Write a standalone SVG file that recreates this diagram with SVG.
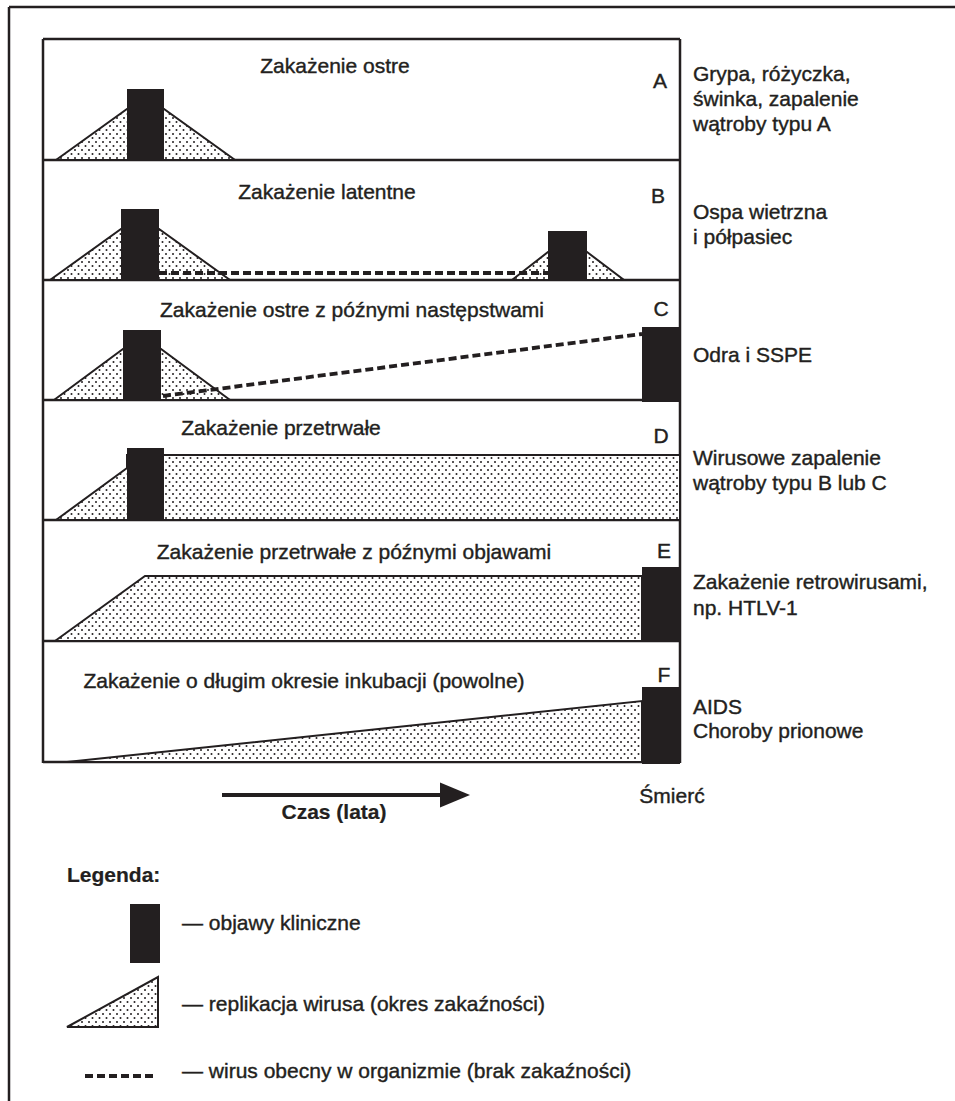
<svg xmlns="http://www.w3.org/2000/svg" width="955" height="1101" viewBox="0 0 955 1101">
<style>
text{font-family:"Liberation Sans",Arial,sans-serif;font-size:21px;fill:#231f20;stroke:#231f20;stroke-width:0.4}
.t{text-anchor:middle}
.b{font-weight:bold;stroke-width:0.2}
.blk{fill:#231f20}
.rep{fill:url(#dots);stroke:#231f20;stroke-width:2;stroke-linejoin:miter}
.dash{stroke:#231f20;stroke-width:3.8;stroke-dasharray:8 4;fill:none}
.ln{stroke:#231f20;stroke-width:2.5;fill:none}
</style>
<defs>
<pattern id="dots" width="7" height="8" patternUnits="userSpaceOnUse">
<rect width="7" height="8" fill="#fff"/>
<circle cx="1.5" cy="2" r="1" fill="#231f20"/>
<circle cx="5" cy="6" r="1" fill="#231f20"/>
</pattern>
</defs>
<rect width="955" height="1101" fill="#fff"/>
<g id="frame">
<path class="ln" d="M9,7 H955 M9,7 V1101"/>
<path class="ln" d="M43,39 H680 M43,160 H680 M43,280 H680 M43,400 H680 M43,520 H680 M43,641 H680 M43,762 H680 M43,39 V763 M680,39 V763"/>
</g>
<g id="rowA">
<text class="t" x="335" y="73">Zakażenie ostre</text>
<polygon class="rep" points="56,160 127,109 164,109 235,160"/>
<rect class="blk" x="127" y="89" width="37" height="71"/>
<text class="t" x="660" y="88">A</text>
<text x="693" y="81">Grypa, różyczka,</text>
<text x="693" y="106">świnka, zapalenie</text>
<text x="693" y="131">wątroby typu A</text>
</g>
<g id="rowB">
<text class="t" x="327" y="199">Zakażenie latentne</text>
<polygon class="rep" points="50,280 121,229 159,229 230,280"/>
<rect class="blk" x="121" y="209" width="38" height="71"/>
<polygon class="rep" points="512,280 548,252 587,252 624,280"/>
<rect class="blk" x="548" y="231" width="39" height="49"/>
<text class="t" x="658" y="203">B</text>
<text x="693" y="219">Ospa wietrzna</text>
<text x="693" y="244">i półpasiec</text>
</g>
<g id="rowC">
<text class="t" x="352" y="317">Zakażenie ostre z późnymi następstwami</text>
<polygon class="rep" points="54,400 123,349 161,349 230,400"/>
<rect class="blk" x="123" y="330" width="38" height="70"/>
<rect class="blk" x="642" y="327" width="38" height="75"/>
<text class="t" x="661" y="316">C</text>
<text x="693" y="362">Odra i SSPE</text>
</g>
<g id="rowD">
<text class="t" x="281" y="435">Zakażenie przetrwałe</text>
<path class="rep" d="M56,520 L127,468 L127,455 L680,455 L680,520 Z"/>
<rect class="blk" x="127" y="448" width="37" height="72"/>
<text class="t" x="661" y="443">D</text>
<text x="693" y="465">Wirusowe zapalenie</text>
<text x="693" y="490">wątroby typu B lub C</text>
</g>
<g id="rowE">
<text class="t" x="354" y="559">Zakażenie przetrwałe z późnymi objawami</text>
<path class="rep" d="M55,641 L145,576 L642,576 L642,641 Z"/>
<rect class="blk" x="642" y="567" width="38" height="75"/>
<text class="t" x="664" y="558">E</text>
<text x="693" y="589">Zakażenie retrowirusami,</text>
<text x="693" y="615">np. HTLV-1</text>
</g>
<g id="rowF">
<text class="t" x="304" y="688">Zakażenie o długim okresie inkubacji (powolne)</text>
<path class="rep" d="M67,762 L642,701 L642,762 Z"/>
<rect class="blk" x="642" y="687" width="38" height="77"/>
<text class="t" x="664" y="682">F</text>
<text x="693" y="714">AIDS</text>
<text x="693" y="738">Choroby prionowe</text>
</g>
<g id="connectors">
<line class="dash" x1="159" y1="273" x2="548" y2="273"/>
<line class="dash" x1="163" y1="396" x2="642" y2="334"/>
<line x1="222" y1="795" x2="444" y2="795" stroke="#231f20" stroke-width="4"/>
<polygon class="blk" points="440,782.5 470,795 440,807.5"/>
</g>
<g id="axis">
<text class="t b" x="334" y="819">Czas (lata)</text>
<text class="t" x="672" y="803">Śmierć</text>
</g>
<g id="legend">
<text class="b" x="67" y="882">Legenda:</text>
<rect class="blk" x="130" y="904" width="30" height="59"/>
<text x="182" y="930">— objawy kliniczne</text>
<polygon class="rep" points="67,1027 158,977 158,1027"/>
<text x="182" y="1011">— replikacja wirusa (okres zakaźności)</text>
<line class="dash" x1="85" y1="1076" x2="157" y2="1076"/>
<text x="182" y="1078">— wirus obecny w organizmie (brak zakaźności)</text>
</g>
</svg>
